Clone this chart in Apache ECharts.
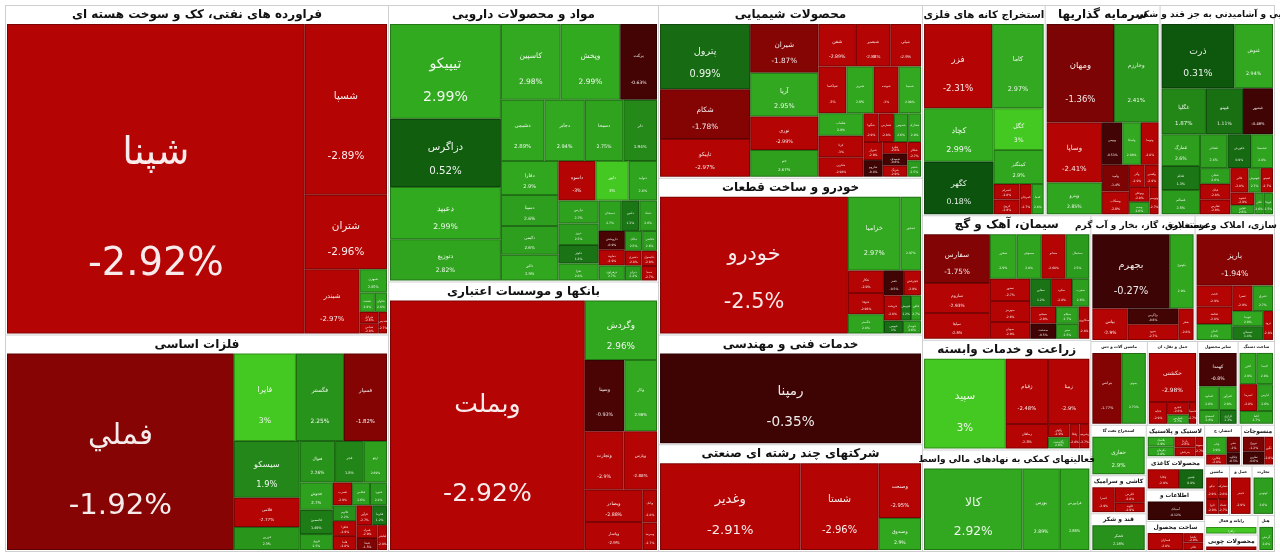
<!DOCTYPE html>
<html>
<head>
<meta charset="utf-8">
<title>نقشه بازار</title>
<script src="https://cdn.jsdelivr.net/npm/echarts@6/dist/echarts.min.js"></script>
<style>
html, body { margin: 0; padding: 0; background: #fff; }
#main { width: 1280px; height: 559px; }
</style>
</head>
<body>
<div id="main"></div>
<script>
// گروه های صنعت و مساحت هر گروه (با سرتیتر)
var sectorNames = [
    'فراورده های نفتی، کک و سوخت هسته ای',
    'فلزات اساسی',
    'مواد و محصولات دارویی',
    'بانکها و موسسات اعتباری',
    'محصولات شیمیایی',
    'خودرو و ساخت قطعات',
    'خدمات فنی و مهندسی',
    'شرکتهای چند رشته ای صنعتی',
    'استخراج کانه های فلزی',
    'سرمایه گذاریها',
    'غذایی و آشامیدنی به جز قند و شکر',
    'سیمان، آهک و گچ',
    'زراعت و خدمات وابسته',
    'فعالیتهای کمکی به نهادهای مالی واسط',
    'عرضه برق، گاز، بخار و آب گرم',
    'انبوه سازی، املاک و مستغلات',
    'ماشین آلات و دستگاههای برقی',
    'حمل و نقل، انبارداری و ارتباطات',
    'ساخت دستگاهها و وسایل ارتباطی',
    'سایر محصولات کانی غیرفلزی',
    'قند و شکر',
    'اطلاعات و ارتباطات',
    'لاستیک و پلاستیک',
    'استخراج نفت گاز و خدمات جنبی جز اکتشاف',
    'ساخت محصولات فلزی',
    'ماشین آلات و تجهیزات',
    'رایانه و فعالیتهای وابسته به آن',
    'محصولات کاغذی',
    'انتشار، چاپ و تکثیر',
    'محصولات چوبی',
    'هتل و رستوران',
    'کاشی و سرامیک',
    'منسوجات',
    'حمل و نقل آبی',
    'تجارت عمده و خرده فروشی'
];
var sectorSizes = [126390, 83111, 74790, 72900, 45672, 41448, 29040, 28248, 25830, 24200, 24100,
    21000, 18480, 17136, 13125, 10000, 4745, 4225, 3055, 3400, 2100, 1850, 1900, 2800, 1750,
    1225, 1050, 1890, 1500, 875, 600, 2100, 1350, 1120, 1110];

// نمادهای هر گروه
var stockNames = [
    ['شپنا', 'شسپا', 'شتران', 'شبندر', 'شبهرن', 'شنفت', 'شاوان', 'شرانل', 'شپاس', 'شدیس'],
    ['فملي', 'فایرا', 'فگستر', 'فسپار', 'سیسکو', 'فلامی', 'فزرین', 'فنوال', 'فجر', 'ارفع', 'فجوش', 'فاسمین',
        'فروی', 'فسرب', 'فخاس', 'فنورد', 'فالوم', 'فافزا', 'فاما', 'فرآور', 'فکرما', 'فمراد', 'فپنتا', 'فباهنر'],
    ['تیپیکو', 'دزاگرس', 'دعبید', 'دتوزیع', 'کاسپین', 'وپخش', 'برکت', 'دشیمی', 'دجابر', 'دسبحا', 'دلر', 'دفارا',
        'دسینا', 'دکیمی', 'دالبر', 'داسوه', 'دابور', 'دتولید', 'دپارس', 'دروز', 'دکوثر', 'دسبحان', 'دفرا', 'دامین',
        'دتماد', 'داروپخش', 'دماوند', 'دزهراوی', 'دبالک', 'دقاضی', 'دیران', 'دشیری', 'دکپسول', 'دسپا'],
    ['وبملت', 'وگردش', 'وسینا', 'وکار', 'وتجارت', 'وپارس', 'وبصادر', 'وپاسار', 'وبانک', 'وسرمد'],
    ['پترول', 'شکام', 'تاپیکو', 'شیران', 'آریا', 'نوری', 'جم', 'شفن', 'شبصیر', 'شبریز', 'شپاکسا', 'شپلی',
        'شوینده', 'شسینا', 'شلعاب', 'کرتا', 'شکربن', 'شفارس', 'شگویا', 'شدوص', 'شخارک', 'شیراز', 'شاروم',
        'شصدف', 'شلرد', 'شزنگ', 'شکلر', 'شجم'],
    ['خودرو', 'خزامیا', 'خمحور', 'خکار', 'ختوقا', 'خگستر', 'خفنر', 'خریخت', 'خچرخش', 'خاهن', 'خپویش', 'خبهمن', 'خوساز'],
    ['رمپنا'],
    ['وغدیر', 'شستا', 'وصنعت', 'وصندوق'],
    ['فزر', 'کاما', 'کچاد', 'کگهر', 'کگل', 'کمنگنز', 'کسرام', 'کروی', 'کمرجان', 'کدما'],
    ['ومهان', 'وخارزم', 'وساپا', 'وپترو', 'وبهمن', 'ولساپا', 'وتوصا', 'وامید', 'وسکاب', 'وآذر', 'وبوعلی',
        'وکغدیر', 'وسپه', 'وتوسم'],
    ['ذرت', 'غنوش', 'غگلپا', 'غپینو', 'غبشهر', 'غمارگ', 'غشاذر', 'غسالم', 'غدام', 'غکورش', 'غشصفا', 'غپاک',
        'غشان', 'غالبر', 'غفارس', 'غشهد', 'غمینو', 'غبهنوش', 'غچین', 'غویتا', 'غاذر'],
    ['سفارس', 'ساروم', 'سپاها', 'سصوفی', 'سخزر', 'سفانو', 'سشمال', 'سدور', 'سهرمز', 'سبهان', 'سکرد', 'سقاین',
        'سغرب', 'سبجنو', 'سیلام', 'سدشت', 'سکارون', 'سنیر'],
    ['سپید', 'زقیام', 'زبینا', 'زماهان', 'زکوثر', 'زشریف', 'زفکا', 'زگلدشت'],
    ['کالا', 'بورس', 'فرابورس'],
    ['بجهرم', 'بکهنوج', 'بپاس', 'بنیرو', 'بزاگرس', 'بفجر'],
    ['باریز', 'ثاخت', 'ثشاهد', 'ثامان', 'ثشرق', 'ثعمرا', 'ثنوسا', 'ثمسکن', 'ثرود'],
    ['بترانس', 'بموتو'],
    ['حکشتی', 'حتاید', 'حپترو', 'حفارس', 'حسینا'],
    ['لابسا', 'لخزر', 'لسرما', 'لکما', 'لپارس'],
    ['کهمدا', 'کساوه', 'کفرآور', 'کسعدی', 'کرازی'],
    ['قشکر'],
    ['آسیاتک'],
    ['پکرمان', 'پلاسک', 'پارتا', 'پدرخش', 'پسهند'],
    ['حفاری'],
    ['فسازان', 'تکشا', 'فاذر'],
    ['تپکو', 'تمحرکه', 'تایرا', 'تشتاد'],
    ['رافزا'],
    ['چکاپا', 'چفیبر'],
    ['چاپ', 'نشر', 'چکارن', 'چکاوه'],
    ['چوکا'],
    ['گردش'],
    ['کسرا', 'کپارس', 'کلوند'],
    ['نبروج', 'نطرین', 'نگین'],
    ['حبندر'],
    ['لوتوس']
];

// مساحت هر نماد
var stockSizes = [
    [93600, 14276, 6225, 3575, 650, 300, 240, 220, 200, 180],
    [45770, 5580, 4320, 3870, 3844, 1984, 1551, 1504, 1222, 990, 930, 825,
        540, 450, 420, 400, 380, 360, 340, 320, 300, 280, 260, 240],
    [10700, 7704, 5885, 4662, 4601, 4588, 2835, 2709, 2520, 2400, 2100, 1998,
        1800, 1680, 1512, 1500, 1330, 1140, 950, 874, 760, 700, 700, 560,
        550, 500, 420, 400, 350, 300, 250, 250, 240, 230],
    [49644, 4380, 2880, 2376, 2320, 2000, 1914, 1650, 480, 400],
    [6048, 4620, 3504, 3431, 3066, 2352, 1880, 1645, 1504, 1314, 1350, 1350,
        1200, 1080, 1035, 1000, 900, 450, 450, 420, 380, 360, 330,
        300, 300, 280, 260, 230],
    [26410, 3996, 1554, 840, 780, 714, 510, 440, 440, 260, 260, 250, 238],
    [24552],
    [12780, 7125, 2430, 1425],
    [5950, 4505, 3872, 3784, 2170, 1760, 420, 396, 380, 374],
    [6460, 4275, 3249, 1710, 837, 770, 729, 700, 595, 340, 300, 300, 250, 240],
    [4650, 2480, 2035, 1705, 1375, 1210, 925, 925, 925, 800, 736, 480,
        480, 440, 440, 300, 300, 300, 220, 200, 200],
    [3306, 2030, 1739, 1128, 1222, 1110, 1081, 925, 870, 700, 600, 600,
        500, 450, 400, 400, 350, 350],
    [7636, 2881, 2814, 1075, 300, 250, 250, 250],
    [8400, 3192, 2520],
    [6000, 1850, 1155, 825, 825, 500],
    [4160, 800, 650, 600, 550, 550, 500, 450, 300],
    [2160, 1782],
    [2925, 500, 350, 250, 200],
    [550, 550, 500, 450, 450],
    [1330, 500, 450, 300, 250],
    [1470],
    [1295],
    [350, 350, 300, 250, 200],
    [1750],
    [800, 250, 200],
    [350, 300, 250, 200],
    [700],
    [650, 500],
    [450, 250, 250, 200],
    [500],
    [300],
    [600, 500, 300],
    [400, 350, 300],
    [500],
    [300]
];

// درصد تغییر قیمت هر نماد
var stockPcts = [
    [-2.92, -2.89, -2.96, -2.97, 2.85, 2.9, 2.8, -2.6, -2.8, -2.7],
    [-1.92, 3, 2.25, -1.82, 1.9, -2.77, 2.3, 2.26, 1.8, 2.69, 2.7, 1.49,
        2.5, -2.9, 2.6, 2.4, 2.2, -2.9, -2.8, -2.7, 1.2, -2.9, -1.5, -2.8],
    [2.99, 0.52, 2.99, 2.82, 2.98, 2.99, -0.63, 2.89, 2.94, 2.75, 1.94, 2.9,
        2.6, 2.6, 2.9, -3, 3, 2.8, 2.7, 2.5, 1.2, 2.7, 2.8, 1.3,
        2.6, -0.9, -2.9, 2.7, 2.5, 2.6, 2.4, -2.8, -2.9, -2.7],
    [-2.92, 2.96, -0.93, 2.98, -2.9, -2.88, -2.88, -2.9, -2.8, -2.7],
    [0.99, -1.78, -2.97, -1.87, 2.95, -2.99, 2.67, -2.89, -2.88, 2.9, -3, -2.9,
        -3, 2.98, 2.9, -3, -2.98, -2.8, -2.9, 2.6, 2.8, -2.9, -0.4,
        -0.6, -2.8, -2.9, -2.7, 2.5],
    [-2.5, 2.97, 2.97, -2.9, -2.96, 2.8, -0.5, -2.8, -2.9, 2.7, 1.2, 1.0, 2.6],
    [-0.35],
    [-2.91, -2.96, -2.95, 2.9],
    [-2.31, 2.97, 2.99, 0.18, 3, 2.9, -2.8, -2.9, -2.7, 2.8],
    [-1.36, 2.41, -2.41, 2.85, -0.53, 2.98, -2.8, -1.4, -2.8, -2.9, -2.8, -2.9, 2.6, -2.7],
    [0.31, 2.94, 1.87, 1.11, -0.48, 2.6, 2.6, 2.5, 1.3, 0.9, 2.8, -2.8,
        2.6, -2.8, -2.9, -2.9, -2.7, 2.7, 2.6, 2.5, 2.6],
    [-1.75, -2.93, -2.8, 2.8, 2.9, -2.68, 2.5, -2.7, -2.6, -2.9, -2.8, 1.2,
        2.6, -2.9, 2.7, -0.5, -2.8, 2.5],
    [3, -2.48, -2.9, -2.8, -2.9, -2.7, -2.8, 2.6],
    [2.92, 2.89, 2.88],
    [-0.27, 2.9, -2.9, -2.7, -0.6, -2.8],
    [-1.94, -2.9, -2.8, 2.8, 2.7, -2.9, 2.9, 1.4, -2.8],
    [-1.77, 2.73],
    [-2.98, -2.9, -2.8, 2.7, -2.7],
    [2.8, 2.9, -2.8, 2.7, 2.6],
    [-0.8, 2.8, 2.9, 2.6, 1.3],
    [2.18],
    [-0.12],
    [2.8, 2.9, -2.8, -2.9, -2.7],
    [2.9],
    [-2.8, -2.9, -2.7],
    [-2.9, -2.8, -2.9, -2.7],
    [3],
    [-2.9, 0.8],
    [2.9, -1, -2.8, -0.5],
    [-2.9],
    [2.8],
    [-2.9, -2.8, -2.9],
    [-1.2, -0.6, -2.8],
    [-2.9],
    [2.6]
];

// رنگ خانه بر اساس درصد تغییر (k برای تیره کردن حاشیه)
function pctColor(p, k) {
    var r, g, b;
    if (p >= 3) {
        r = 68; g = 200; b = 34;
    } else if (p >= 0) {
        var t = p / 3;
        r = 10 + 40 * t; g = 78 + 92 * t; b = 12 + 20 * t;
    } else {
        var q = -p;
        r = q >= 2 ? 180 : (q >= 1 ? 105 + 15 * q : 55 + 20 * q);
        g = 4; b = 4;
    }
    return 'rgb(' + Math.round(r * k) + ',' + Math.round(g * k) + ',' + Math.round(b * k) + ')';
}

// اندازه متن هر خانه از روی ابعاد آن
function leafLabel(box) {
    if (!box) return { fontSize: 6, lineHeight: 8 };
    var f = Math.max(3, Math.min(box.w * 0.13, box.h * 0.155, 44));
    return { fontSize: f, lineHeight: Math.max(f * 1.15, box.h * 0.36) };
}

// سرتیتر هر گروه
function headerLabel(i, box) {
    var small = sectorSizes[i] < 6000;
    var fs = small ? 6 : 12;
    if (box) {
        var fit = box.w / (sectorNames[i].length * 0.56);
        fs = small ? Math.max(4, Math.min(6, fit)) : Math.max(9, Math.min(12, fit));
    }
    var lab = { fontSize: fs };
    if (small) {
        lab.height = 11;
        lab.overflow = 'truncate';
        lab.ellipsis = '';
    }
    return lab;
}

function buildData(boxes) {
    return sectorNames.map(function (sec, i) {
        return {
            name: sec,
            value: sectorSizes[i],
            upperLabel: headerLabel(i, boxes && boxes[sec]),
            children: stockNames[i].map(function (n, j) {
                var p = stockPcts[i][j];
                return {
                    name: n,
                    value: [stockSizes[i][j], p],
                    itemStyle: { color: pctColor(p, 1), borderColor: pctColor(p, 0.7) },
                    label: leafLabel(boxes && boxes[sec + '|' + n])
                };
            })
        };
    });
}

var myChart = echarts.init(document.getElementById('main'));

var option = {
    animation: false,
    series: [{
        type: 'treemap',
        left: 5,
        top: 5,
        right: 5,
        bottom: 7,
        roam: false,
        nodeClick: false,
        breadcrumb: { show: false },
        emphasis: { disabled: true },
        label: {
            show: true,
            position: ['50%', '60%'],
            align: 'center',
            verticalAlign: 'middle',
            padding: 0,
            overflow: 'none',
            color: 'rgba(255,255,255,0.92)',
            fontFamily: 'DejaVu Sans',
            formatter: function (p) {
                return Array.isArray(p.value) ? p.name + '\n' + p.value[1] + '%' : p.name;
            }
        },
        levels: [
            { itemStyle: { borderColor: '#cfcfcf', borderWidth: 1, gapWidth: 1 } },
            {
                itemStyle: { borderColor: '#fff', borderWidth: 1, gapWidth: 0 },
                upperLabel: {
                    show: true,
                    height: 18,
                    position: 'inside',
                    padding: 0,
                    overflow: 'none',
                    color: '#111',
                    fontSize: 12,
                    fontWeight: 'bold',
                    fontFamily: 'DejaVu Sans'
                }
            },
            { itemStyle: { borderWidth: 1, gapWidth: 0 } }
        ],
        data: buildData(null)
    }]
};

myChart.setOption(option);

// دور دوم: اندازه متن ها را از ابعاد واقعی خانه ها بگیر
try {
    var tree = myChart.getModel().getSeriesByIndex(0).getData().tree;
    var boxes = {};
    tree.root.eachNode(function (node) {
        var lay = node.getLayout();
        if (!lay || !node.parentNode) return;
        if (node.depth === 1) {
            boxes[node.name] = { w: lay.width, h: lay.height };
        } else if (node.depth === 2) {
            boxes[node.parentNode.name + '|' + node.name] = { w: lay.width - 2, h: lay.height - 2 };
        }
    });
    myChart.setOption({ series: [{ data: buildData(boxes) }] });
} catch (e) {
    console.log(e);
}
</script>
</body>
</html>
